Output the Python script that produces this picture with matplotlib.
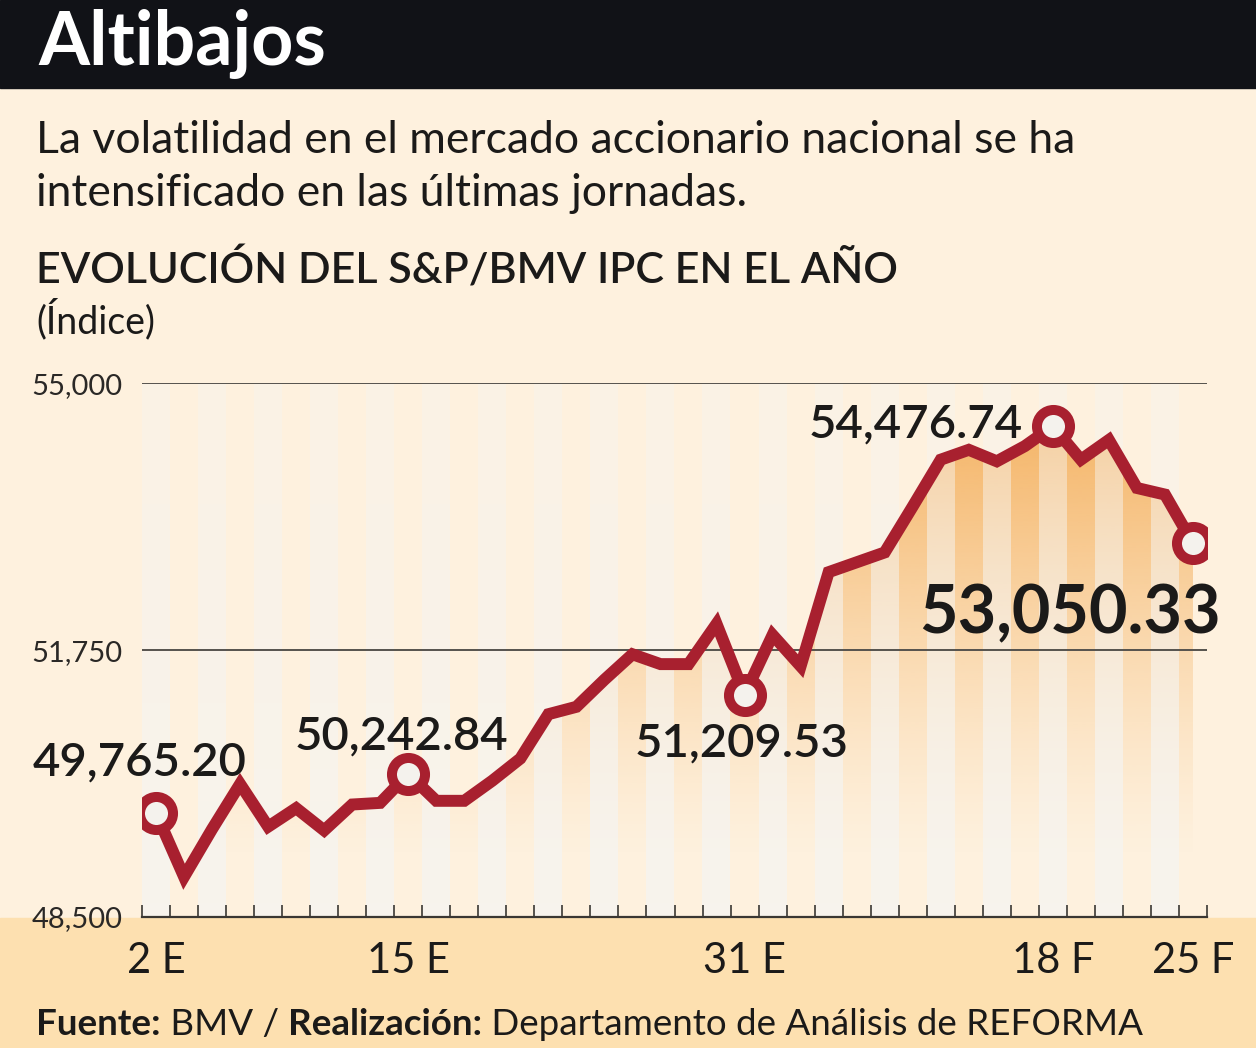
import numpy as np
import matplotlib.pyplot as plt
from matplotlib.patches import Rectangle
from matplotlib.colors import to_rgb

# S&P/BMV IPC closes, trading days 2 Jan - 25 Feb
values = [49765.20, 48990, 49570, 50120, 49600, 49825, 49555, 49870, 49890, 50242.84,
          49915, 49915, 50160, 50430, 50970, 51060, 51390, 51700, 51580, 51580,
          52070, 51209.53, 51935, 51555, 52700, 52820, 52940, 53500, 54070, 54190,
          54050, 54235, 54476.74, 54070, 54310, 53725, 53645, 53050.33]

date_idx = [0, 9, 21, 32, 37]
date_txt = ['2 E', '15 E', '31 E', '18 F', '25 F']

callout_txt = ['49,765.20', '50,242.84', '51,209.53', '54,476.74', '53,050.33']

ytick_vals = [48500, 51750, 55000]
ytick_txt = ['48,500', '51,750', '55,000']

plt.rcParams['font.family'] = ['Lato', 'DejaVu Sans']

W, H = 1256, 1048
RED = '#a8202f'
INK = '#1b1a19'
BG = '#fef1de'

fig = plt.figure(figsize=(W / 100, H / 100), dpi=100)
fig.patch.set_facecolor(BG)

# header band and bottom band
fig.add_artist(Rectangle((0, 1 - 88 / H), 1, 88 / H, transform=fig.transFigure,
                         color='#111217', zorder=0))
fig.add_artist(Rectangle((0, 0), 1, (H - 918) / H, transform=fig.transFigure,
                         color='#fde0b0', zorder=0))

fig.text(38 / W, 1 - 65 / H, 'Altibajos', color='white', fontsize=53,
         fontweight='bold', va='baseline')
fig.text(36 / W, 1 - 153 / H, 'La volatilidad en el mercado accionario nacional se ha',
         color=INK, fontsize=32, va='baseline')
fig.text(36 / W, 1 - 206 / H, 'intensificado en las últimas jornadas.',
         color=INK, fontsize=32, va='baseline')
fig.text(36 / W, 1 - 283 / H, 'EVOLUCIÓN DEL S&P/BMV IPC EN EL AÑO',
         color=INK, fontsize=31, fontweight='semibold', va='baseline')
fig.text(36 / W, 1 - 333 / H, '(Índice)', color=INK, fontsize=27, va='baseline')

# footer: bold / regular pieces placed one after another
renderer = fig.canvas.get_renderer()
xpos = 36
for piece, wt in [('Fuente:', 'bold'), (' BMV / ', 'normal'),
                  ('Realización:', 'bold'), (' Departamento de Análisis de REFORMA', 'normal')]:
    t = fig.text(xpos / W, 1 - 1035 / H, piece, color=INK, fontsize=26.5,
                 fontweight=wt, va='baseline')
    xpos += t.get_window_extent(renderer).width

# chart
ax = fig.add_axes([142 / W, 1 - 917 / H, (1207 - 142) / W, (917 - 383.3) / H])
ax.set_facecolor('none')
ax.set_xlim(-0.5, len(values) - 0.5)
ax.set_ylim(ytick_vals[0], ytick_vals[-1])
x = np.arange(len(values))

# alternating light columns, stronger toward the bottom
ny = 300
yy = np.linspace(ytick_vals[0], ytick_vals[-1], ny)
stripe = np.zeros((ny, len(values), 4))
stripe[..., :3] = to_rgb('#f6f4f0')
col_alpha = np.linspace(0.85, 0.4, ny)
stripe[:, 0::2, 3] = col_alpha[:, None]
ax.imshow(stripe, extent=[-0.5, len(values) - 0.5, ytick_vals[0], ytick_vals[-1]],
          origin='lower', aspect='auto', interpolation='nearest', zorder=1.5)

# orange gradient under the line
grad = np.zeros((ny, 1, 4))
grad[..., :3] = to_rgb('#f3a950')
grad[:, 0, 3] = np.clip((yy - 49200) / (54600 - 49200), 0, 1) ** 1.3 * 0.85
im = ax.imshow(grad, extent=[-0.5, len(values) - 0.5, ytick_vals[0], ytick_vals[-1]],
               origin='lower', aspect='auto', interpolation='bilinear', zorder=1)
area = ax.fill_between(x, values, ytick_vals[0], facecolor='none', edgecolor='none')
im.set_clip_path(area.get_paths()[0], ax.transData)

for v in ytick_vals[1:]:
    ax.axhline(v, color='#55524d', lw=1.4, zorder=2)

ax.plot(x, values, color=RED, lw=8.6, solid_joinstyle='miter', zorder=3)
ax.plot(date_idx, [values[i] for i in date_idx], 'o', ms=23.8, mfc='#f4f2ed',
        mec=RED, mew=7.2, zorder=4)

offsets = [(-16, 38), (-7, 24), (-3, -62), (-137, -11), (-123, -90)]
sizes = [34, 34, 34, 34, 48]
weights = ['semibold', 'semibold', 'semibold', 'semibold', 'bold']
for i, txt, off, fs, wt in zip(date_idx, callout_txt, offsets, sizes, weights):
    ax.annotate(txt, xy=(i, values[i]), xytext=off, textcoords='offset pixels',
                ha='center', va='baseline', fontsize=fs, fontweight=wt, color=INK,
                zorder=5)

for s in ['top', 'left', 'right']:
    ax.spines[s].set_visible(False)
ax.spines['bottom'].set_color('#3a3733')
ax.spines['bottom'].set_linewidth(1.6)

ax.set_xticks(np.arange(-0.5, len(values), 1))
ax.tick_params(axis='x', which='major', direction='in', length=8.6, width=1.2,
               color='#3a3733', labelbottom=False)
ax.set_xticks(date_idx, date_txt, minor=True)
ax.tick_params(axis='x', which='minor', length=0, pad=18, labelsize=30,
               labelcolor=INK)
ax.set_yticks(ytick_vals, ytick_txt)
ax.tick_params(axis='y', length=0, pad=14, labelsize=21, labelcolor='#2a2826')

fig.savefig('out.png', dpi=100, facecolor=fig.get_facecolor())
